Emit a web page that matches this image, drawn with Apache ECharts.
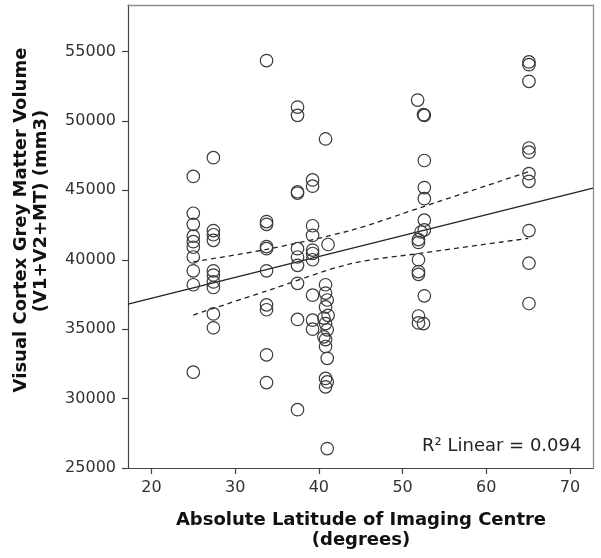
<!DOCTYPE html>
<html>
<head>
<meta charset="utf-8">
<script src="https://cdn.jsdelivr.net/npm/echarts@6/dist/echarts.min.js"></script>
<style>
html,body{margin:0;padding:0;background:#fff;}
#c{width:601px;height:558px;}
</style>
</head>
<body>
<div id="c"></div>
<script>
// ---- data ----
const xTickValues = [20, 30, 40, 50, 60, 70];
const yTickValues = [25000, 30000, 35000, 40000, 45000, 50000, 55000];

const latitude = [
  25.0, 25.0, 25.0, 25.0, 25.0, 25.0, 25.0, 25.0, 25.0, 25.0,
  27.4, 27.4, 27.4, 27.4, 27.4, 27.4, 27.4, 27.4, 27.4, 27.4,
  33.75, 33.75, 33.75, 33.75, 33.75, 33.75, 33.75, 33.75, 33.75, 33.75,
  37.45, 37.45, 37.45, 37.45, 37.45, 37.45, 37.45, 37.45, 37.45, 37.45,
  39.25, 39.25, 39.25, 39.25, 39.25, 39.25, 39.25, 39.25, 39.25, 39.25,
  40.8, 41.1, 40.8, 40.8, 41.0, 40.8, 41.1, 40.6, 40.8, 41.0, 40.6, 40.8, 40.8, 41.0, 40.8, 41.0, 40.8, 41.0,
  51.8, 52.5, 52.6, 52.6, 52.6, 52.6, 52.6, 52.6, 52.2, 51.9, 51.9, 51.9, 51.9, 51.9, 52.6, 51.9, 51.9, 52.5,
  65.1, 65.1, 65.1, 65.1, 65.1, 65.1, 65.1, 65.1, 65.1, 65.1
];
const volume = [
  46000, 43350, 42550, 41700, 41300, 40900, 40200, 39200, 38200, 31900,
  47350, 42100, 41800, 41400, 39200, 38900, 38400, 38000, 36100, 35100,
  54350, 42750, 42550, 40950, 40800, 39200, 36750, 36400, 33150, 31150,
  51000, 50400, 44900, 44800, 40800, 40200, 39600, 38300, 35700, 29200,
  45750, 45300, 42450, 41750, 40700, 40450, 40000, 37450, 35650, 35000,
  48700, 41100, 38200, 37600, 37100, 36600, 36000, 35800, 35400, 34950, 34450, 34250, 33750, 32900, 31450, 31200, 30850, 26400,
  51500, 50450, 50400, 47150, 45200, 44400, 42850, 42150, 42000, 41450, 41250, 40000, 39150, 38950, 37400, 35950, 35450, 35400,
  54250, 54050, 52850, 48050, 47750, 46200, 45650, 42100, 39750, 36850
];

const fitX = [17.2, 72.75];
const fitY = [36810, 45160];

const upperX = [25, 33.75, 43.7, 52.6, 65];
const upperY = [39850, 40750, 42100, 43850, 46330];
const lowerX = [25, 33.75, 43.7, 52.6, 65];
const lowerY = [36020, 37750, 39700, 40500, 41540];

const r2Text = 'R\u00b2 Linear = 0.094';
const xTitle = ['Absolute Latitude of Imaging Centre', '(degrees)'];
const yTitle = ['Visual Cortex Grey Matter Volume', '(V1+V2+MT) (mm3)'];

const zip = (a, b) => a.map((v, i) => [v, b[i]]);

const FONT = 'DejaVu Sans';
const X_MIN = 17.2, X_MAX = 72.75, Y_MIN = 25000, Y_MAX = 58350;
const frameAxis = (pos, min, max) => ({
  type: 'value', position: pos, min: min, max: max,
  splitLine: {show: false}, axisTick: {show: false}, axisLabel: {show: false},
  axisLine: {show: true, onZero: false, lineStyle: {color: '#8f8f8f', width: 1.3}}
});

const chart = echarts.init(document.getElementById('c'), null, {renderer: 'canvas'});
chart.setOption({
  animation: false,
  backgroundColor: '#fff',
  grid: {left: 128, top: 5, right: 8, bottom: 90},
  xAxis: [{
    type: 'value', position: 'bottom', min: X_MIN, max: X_MAX,
    splitLine: {show: false},
    axisLine: {show: true, onZero: false, lineStyle: {color: '#444', width: 1.2}},
    axisTick: {show: true, length: 6, customValues: xTickValues, lineStyle: {color: '#444', width: 1.2}},
    axisLabel: {customValues: xTickValues, margin: 12, color: '#333', fontFamily: FONT, fontSize: 16,
                formatter: v => String(v)}
  }, frameAxis('top', X_MIN, X_MAX)],
  yAxis: [{
    type: 'value', position: 'left', min: Y_MIN, max: Y_MAX,
    splitLine: {show: false},
    axisLine: {show: true, onZero: false, lineStyle: {color: '#444', width: 1.2}},
    axisTick: {show: true, length: 6, customValues: yTickValues, lineStyle: {color: '#444', width: 1.2}},
    axisLabel: {customValues: yTickValues, margin: 12, color: '#333', fontFamily: FONT, fontSize: 16,
                formatter: v => String(v)}
  }, frameAxis('right', Y_MIN, Y_MAX)],
  series: [
    {
      type: 'line', data: zip(fitX, fitY), symbol: 'none', clip: true,
      lineStyle: {color: '#222', width: 1.3}, z: 3
    },
    {
      type: 'line', data: zip(upperX, upperY), symbol: 'none', smooth: 0.3,
      lineStyle: {color: '#222', width: 1.3, type: [5, 4]}, z: 3
    },
    {
      type: 'line', data: zip(lowerX, lowerY), symbol: 'none', smooth: 0.3,
      lineStyle: {color: '#222', width: 1.3, type: [5, 4]}, z: 3
    },
    {
      type: 'scatter', data: zip(latitude, volume), symbol: 'circle', symbolSize: 12.5,
      itemStyle: {color: 'rgba(255,255,255,0)', borderColor: '#3a3a3a', borderWidth: 1.2, opacity: 1},
      z: 4
    }
  ],
  graphic: [
    {type: 'text', left: 422, top: 437, z: 10,
     style: {text: r2Text, fontFamily: FONT, fontSize: 18, fill: '#222'}},
    {type: 'text', x: 361, y: 520, z: 10,
     style: {text: xTitle[0], fontFamily: FONT, fontSize: 18, fontWeight: 'bold', fill: '#111', align: 'center', verticalAlign: 'middle'}},
    {type: 'text', x: 361, y: 540, z: 10,
     style: {text: xTitle[1], fontFamily: FONT, fontSize: 18, fontWeight: 'bold', fill: '#111', align: 'center', verticalAlign: 'middle'}},
    {type: 'text', x: 21, y: 220, rotation: Math.PI / 2, z: 10,
     style: {text: yTitle[0], fontFamily: FONT, fontSize: 18, fontWeight: 'bold', fill: '#111', align: 'center', verticalAlign: 'middle'}},
    {type: 'text', x: 41, y: 211, rotation: Math.PI / 2, z: 10,
     style: {text: yTitle[1], fontFamily: FONT, fontSize: 18, fontWeight: 'bold', fill: '#111', align: 'center', verticalAlign: 'middle'}}
  ]
});
</script>
</body>
</html>
